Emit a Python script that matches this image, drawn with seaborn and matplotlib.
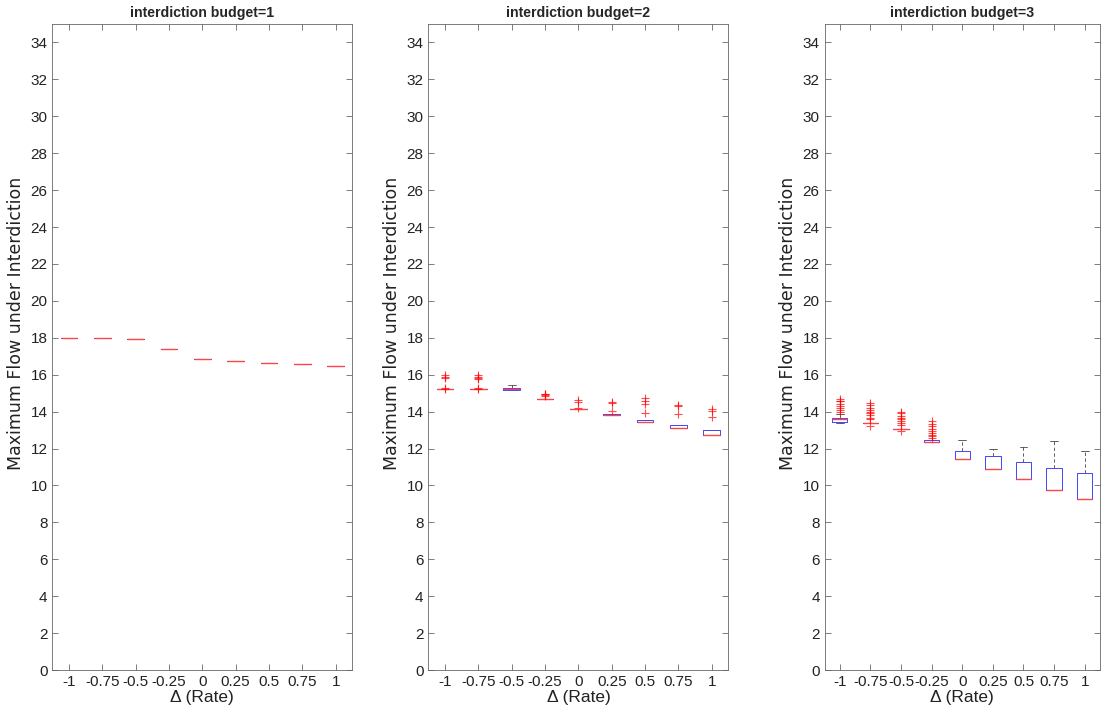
import numpy as np
import pandas as pd
import matplotlib
matplotlib.use("Agg")
import matplotlib.pyplot as plt
import seaborn as sns

# values
rates = [-1, -0.75, -0.5, -0.25, 0, 0.25, 0.5, 0.75, 1]
rate_labels = ["-1", "-0.75", "-0.5", "-0.25", "0", "0.25", "0.5", "0.75", "1"]
budgets = [1, 2, 3]

# budget = 1 : boxes collapse to the median
b1_med = [18.0, 18.0, 17.96, 17.4, 16.85, 16.75, 16.65, 16.57, 16.47]
b1_q1 = b1_med
b1_q3 = b1_med
b1_lo = b1_med
b1_hi = b1_med
b1_fliers = [[], [], [], [], [], [], [], [], []]

# budget = 2
b2_med = [15.2, 15.2, 15.2, 14.7, 14.15, 13.84, 13.46, 13.11, 12.75]
b2_q1 = [15.2, 15.2, 15.19, 14.7, 14.13, 13.84, 13.45, 13.11, 12.75]
b2_q3 = [15.2, 15.2, 15.26, 14.7, 14.15, 13.89, 13.55, 13.3, 13.02]
b2_lo = [15.2, 15.2, 15.19, 14.7, 14.13, 13.84, 13.45, 13.11, 12.75]
b2_hi = [15.2, 15.2, 15.45, 14.7, 14.15, 13.89, 13.55, 13.3, 13.02]
b2_fliers = [
    [15.97, 15.88, 15.84, 15.27, 15.24],
    [15.98, 15.9, 15.84, 15.76, 15.27, 15.24],
    [],
    [14.97, 14.93, 14.89, 14.85],
    [14.63, 14.5, 14.18],
    [14.52, 14.47, 14.03],
    [14.76, 14.6, 14.4, 13.95],
    [14.34, 14.28, 13.85],
    [14.12, 14.05, 13.71],
]

# budget = 3
b3_med = [13.58, 13.36, 13.07, 12.36, 11.43, 10.88, 10.33, 9.78, 9.24]
b3_q1 = [13.45, 13.36, 13.07, 12.36, 11.43, 10.88, 10.33, 9.78, 9.24]
b3_q3 = [13.65, 13.36, 13.07, 12.47, 11.88, 11.57, 11.26, 10.97, 10.66]
b3_lo = [13.36, 13.36, 13.07, 12.36, 11.43, 10.88, 10.33, 9.78, 9.24]
b3_hi = [13.85, 13.36, 13.07, 12.47, 12.45, 11.99, 12.08, 12.41, 11.85]
b3_fliers = [
    [14.67, 14.6, 14.55, 14.42, 14.31, 14.2, 14.09, 13.98],
    [14.49, 14.36, 14.22, 14.09, 14.0, 13.91, 13.8, 13.67, 13.58, 13.22],
    [14.0, 13.91, 13.76, 13.65, 13.58, 13.49, 13.4, 13.29, 12.95],
    [13.49, 13.35, 13.2, 13.07, 12.96, 12.85, 12.76, 12.67, 12.58],
    [], [], [], [], [],
]

panels = [
    (b1_q1, b1_med, b1_q3, b1_lo, b1_hi, b1_fliers),
    (b2_q1, b2_med, b2_q3, b2_lo, b2_hi, b2_fliers),
    (b3_q1, b3_med, b3_q3, b3_lo, b3_hi, b3_fliers),
]

sns.set_theme(style="ticks")
plt.rcParams["font.family"] = ["Liberation Sans", "DejaVu Sans"]
plt.rcParams["axes.edgecolor"] = "#666666"
plt.rcParams["axes.linewidth"] = 0.6

fig = plt.figure(figsize=(11.02, 7.22), dpi=100)
ax_pos = [
    [0.0475, 0.072, 0.2722, 0.8947],
    [0.3888, 0.072, 0.2722, 0.8947],
    [0.7482, 0.072, 0.2500, 0.8947],
]

positions = list(range(1, len(rates) + 1))

for i, (q1, med, q3, lo, hi, fl) in enumerate(panels):
    ax = fig.add_axes(ax_pos[i])
    stats = []
    for j in range(len(rates)):
        stats.append({"q1": q1[j], "med": med[j], "q3": q3[j],
                      "whislo": lo[j], "whishi": hi[j], "fliers": []})
    ax.bxp(stats, positions=positions, widths=0.5, capwidths=0.25,
           showfliers=False,
           boxprops=dict(color="#4444ff", linewidth=0.7, zorder=3),
           medianprops=dict(color="#ff4444", linewidth=1.0, zorder=4),
           whiskerprops=dict(color="#444444", linewidth=0.6, linestyle=(0, (4, 3)), zorder=2),
           capprops=dict(color="#444444", linewidth=0.6, zorder=2))

    # outliers as red crosses
    fx, fy = [], []
    for j, vals in enumerate(fl):
        for v in vals:
            fx.append(positions[j])
            fy.append(v)
    if fx:
        fdf = pd.DataFrame({"x": fx, "y": fy})
        sns.scatterplot(data=fdf, x="x", y="y", marker="+", color="red",
                        s=40, linewidth=0.8, alpha=0.7, ax=ax, legend=False, zorder=5)

    ax.set_xlim(0.5, len(rates) + 0.5)
    ax.set_ylim(0, 35)
    ax.set_yticks(np.arange(0, 35, 2))
    ax.set_xticks(positions)
    ax.set_xticklabels(rate_labels)
    ax.tick_params(direction="in", length=4, width=0.6, top=True, right=True,
                   labelsize=11, colors="#666666", labelcolor="#222222")
    ax.set_xlabel("\u0394 (Rate)", fontsize=12.5, color="#222222", labelpad=1)
    ax.set_ylabel("Maximum Flow under Interdiction", fontsize=12.5, color="#222222",
                  labelpad=4, family=["DejaVu Sans"])
    ax.yaxis.label.set_y(0.536)
    ax.set_title(f"interdiction budget={budgets[i]}", fontsize=10.2, fontweight="bold", pad=5)
    for s in ax.spines.values():
        s.set_visible(True)

plt.savefig("out.png", dpi=100)
